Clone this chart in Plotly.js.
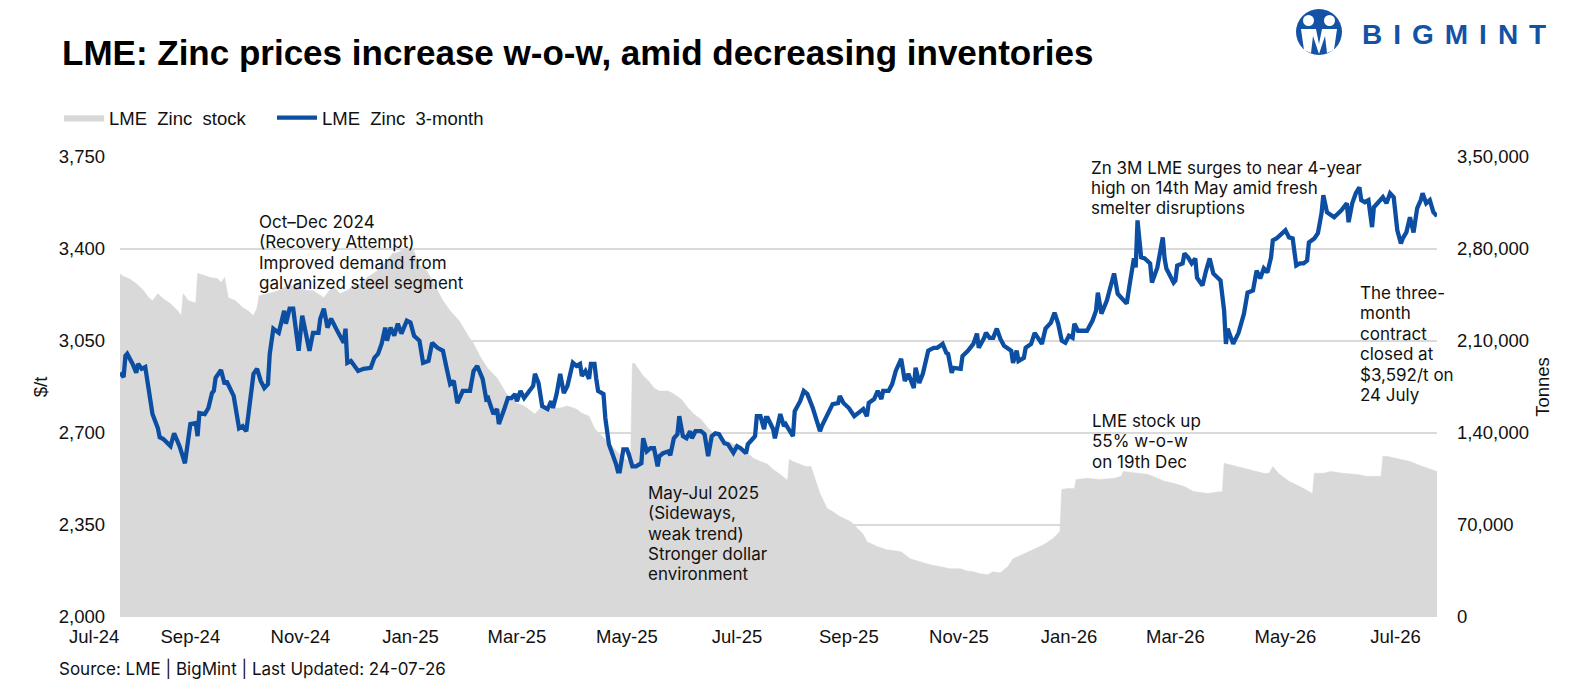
<!DOCTYPE html>
<html>
<head>
<meta charset="utf-8">
<script src="https://cdn.plot.ly/plotly-3.0.1.min.js"></script>
<style>
  html, body { margin: 0; padding: 0; background: #fff; }
  #chart { width: 1579px; height: 685px; }
</style>
</head>
<body>
<div id="chart"></div>
<script>
// LME zinc stock (tonnes)
const stockDates = [
  '2024-07-24','2024-07-26','2024-07-29','2024-08-02','2024-08-06','2024-08-09','2024-08-11','2024-08-14','2024-08-17','2024-08-21',
  '2024-08-25','2024-08-27','2024-08-28','2024-08-31','2024-09-04','2024-09-05','2024-09-09','2024-09-12','2024-09-16','2024-09-18',
  '2024-09-20','2024-09-22','2024-09-26','2024-09-30','2024-10-03','2024-10-06','2024-10-08','2024-10-09','2024-10-14','2024-10-20',
  '2024-10-23','2024-10-26','2024-10-28','2024-10-31','2024-11-01','2024-11-05','2024-11-08','2024-11-11','2024-11-14','2024-11-17',
  '2024-11-20','2024-11-23','2024-11-27','2024-11-30','2024-12-03','2024-12-08','2024-12-14','2024-12-19','2024-12-22','2024-12-25',
  '2024-12-28','2025-01-01','2025-01-03','2025-01-05','2025-01-10','2025-01-14','2025-01-19','2025-01-23','2025-01-28','2025-02-02',
  '2025-02-05','2025-02-09','2025-02-13','2025-02-18','2025-02-23','2025-02-26','2025-03-01','2025-03-05','2025-03-09','2025-03-11',
  '2025-03-14','2025-03-18','2025-03-21','2025-03-25','2025-03-29','2025-04-03','2025-04-06','2025-04-10','2025-04-13','2025-04-16',
  '2025-04-20','2025-04-24','2025-04-27','2025-05-02','2025-05-03','2025-05-04','2025-05-05','2025-05-07','2025-05-10','2025-05-13',
  '2025-05-16','2025-05-19','2025-05-24','2025-05-27','2025-05-31','2025-06-04','2025-06-07','2025-06-11','2025-06-15','2025-06-18',
  '2025-06-22','2025-06-26','2025-06-29','2025-07-03','2025-07-07','2025-07-10','2025-07-14','2025-07-18','2025-07-21','2025-07-25',
  '2025-07-29','2025-07-30','2025-08-01','2025-08-05','2025-08-08','2025-08-11','2025-08-14','2025-08-16','2025-08-20','2025-08-23',
  '2025-08-27','2025-09-02','2025-09-06','2025-09-09','2025-09-11','2025-09-17','2025-09-22','2025-09-30','2025-10-05','2025-10-11',
  '2025-10-16','2025-10-22','2025-10-27','2025-11-02','2025-11-05','2025-11-09','2025-11-13','2025-11-17','2025-11-20','2025-11-24',
  '2025-11-28','2025-12-01','2025-12-07','2025-12-12','2025-12-18','2025-12-23','2025-12-27','2025-12-28','2025-12-31','2026-01-04',
  '2026-01-05','2026-01-11','2026-01-18','2026-01-26','2026-01-30','2026-01-31','2026-02-06','2026-02-14','2026-02-23','2026-02-28',
  '2026-03-06','2026-03-11','2026-03-19','2026-03-26','2026-03-27','2026-03-28','2026-04-04','2026-04-11','2026-04-19','2026-04-22',
  '2026-04-24','2026-04-27','2026-05-03','2026-05-09','2026-05-12','2026-05-16','2026-05-17','2026-05-22','2026-05-26','2026-06-02',
  '2026-06-10','2026-06-15','2026-06-23','2026-06-24','2026-06-26','2026-07-02','2026-07-09','2026-07-16','2026-07-24'
];
const stockTonnes = [
  261000,259000,257500,253700,248400,243000,240700,246000,242200,238400,
  233000,229300,246000,240700,239000,261400,259900,258300,257500,254500,
  258300,243000,240700,235400,233000,229300,235400,244500,246000,248400,
  250700,253700,250700,254500,249900,248400,248400,246000,243000,248400,
  250700,246000,248400,252200,252200,258300,263700,271300,276600,277400,
  279800,280500,279000,269000,263700,253700,240700,233000,225400,214000,
  207900,197200,188800,181900,170400,166600,162800,160500,156700,154400,
  159000,156700,159000,159000,160500,158200,155100,152800,143700,139000,
  133700,128400,123800,118400,118000,192600,193300,189500,183400,179600,
  174200,171900,171900,169600,165800,158900,154400,150500,143700,139800,
  135900,133700,131400,128400,124600,120700,118400,116200,112300,108500,
  104000,120000,118400,116200,114600,114600,103200,94000,82500,80200,
  76400,72600,67200,62700,57300,53500,51200,49700,44300,42000,
  39700,38200,36700,36700,35200,34400,32900,32100,34400,33600,
  38200,44300,48100,51200,55000,59600,65000,97100,97800,97800,
  104700,105500,104700,105500,107000,110800,110000,108500,103200,101700,
  99300,95500,94000,95500,95000,116900,114600,112300,109300,109300,
  114600,109300,103200,99300,97100,94000,109300,109300,110800,109300,
  108500,107000,107000,122300,122300,120700,118400,114600,110800
];

// LME zinc 3-month price ($/t)
const priceDates = [
  '2024-07-24','2024-07-26','2024-07-27','2024-07-28','2024-07-31','2024-08-02','2024-08-03','2024-08-05','2024-08-07','2024-08-09',
  '2024-08-11','2024-08-14','2024-08-15','2024-08-17','2024-08-21','2024-08-23','2024-08-26','2024-08-29','2024-09-01','2024-09-04',
  '2024-09-05','2024-09-06','2024-09-09','2024-09-11','2024-09-13','2024-09-14','2024-09-15','2024-09-18','2024-09-20','2024-09-21',
  '2024-09-23','2024-09-25','2024-09-28','2024-09-30','2024-10-02','2024-10-05','2024-10-06','2024-10-08','2024-10-10','2024-10-12',
  '2024-10-14','2024-10-15','2024-10-17','2024-10-20','2024-10-23','2024-10-24','2024-10-26','2024-10-28','2024-10-31','2024-11-02',
  '2024-11-03','2024-11-06','2024-11-08','2024-11-11','2024-11-12','2024-11-14','2024-11-16','2024-11-18','2024-11-22','2024-11-25',
  '2024-11-26','2024-11-27','2024-11-29','2024-12-03','2024-12-06','2024-12-10','2024-12-12','2024-12-14','2024-12-16','2024-12-18',
  '2024-12-19','2024-12-21','2024-12-23','2024-12-25','2024-12-27','2024-12-30','2025-01-01','2025-01-03','2025-01-06','2025-01-08',
  '2025-01-11','2025-01-13','2025-01-16','2025-01-19','2025-01-21','2025-01-23','2025-01-25','2025-01-27','2025-01-30','2025-02-03',
  '2025-02-05','2025-02-07','2025-02-10','2025-02-12','2025-02-13','2025-02-16','2025-02-18','2025-02-19','2025-02-22','2025-02-24',
  '2025-02-26','2025-02-28','2025-03-01','2025-03-03','2025-03-05','2025-03-08','2025-03-10','2025-03-11','2025-03-13','2025-03-15',
  '2025-03-18','2025-03-20','2025-03-21','2025-03-23','2025-03-25','2025-03-27','2025-03-29','2025-04-01','2025-04-03','2025-04-05',
  '2025-04-06','2025-04-08','2025-04-10','2025-04-11','2025-04-13','2025-04-14','2025-04-15','2025-04-18','2025-04-19','2025-04-21',
  '2025-04-23','2025-04-25','2025-04-26','2025-04-27','2025-04-29','2025-05-01','2025-05-02','2025-05-04','2025-05-06','2025-05-09',
  '2025-05-10','2025-05-12','2025-05-14','2025-05-16','2025-05-18','2025-05-19','2025-05-21','2025-05-24','2025-05-25','2025-05-27',
  '2025-05-29','2025-05-30','2025-06-01','2025-06-03','2025-06-05','2025-06-06','2025-06-08','2025-06-11','2025-06-13','2025-06-15',
  '2025-06-17','2025-06-19','2025-06-21','2025-06-24','2025-06-26','2025-06-29','2025-07-01','2025-07-03','2025-07-06','2025-07-07',
  '2025-07-10','2025-07-11','2025-07-12','2025-07-14','2025-07-16','2025-07-17','2025-07-18','2025-07-21','2025-07-22','2025-07-25',
  '2025-07-27','2025-07-28','2025-07-31','2025-08-01','2025-08-02','2025-08-05','2025-08-07','2025-08-09','2025-08-12','2025-08-16',
  '2025-08-17','2025-08-20','2025-08-23','2025-08-26','2025-08-27','2025-08-29','2025-09-01','2025-09-04','2025-09-06','2025-09-09',
  '2025-09-11','2025-09-12','2025-09-15','2025-09-17','2025-09-19','2025-09-20','2025-09-23','2025-09-25','2025-09-27','2025-09-30',
  '2025-10-02','2025-10-04','2025-10-07','2025-10-08','2025-10-10','2025-10-12','2025-10-15','2025-10-18','2025-10-20','2025-10-23',
  '2025-10-25','2025-10-26','2025-10-28','2025-10-29','2025-11-02','2025-11-03','2025-11-06','2025-11-09','2025-11-11','2025-11-12',
  '2025-11-15','2025-11-16','2025-11-18','2025-11-20','2025-11-22','2025-11-24','2025-11-26','2025-11-28','2025-11-30','2025-12-01',
  '2025-12-03','2025-12-04','2025-12-07','2025-12-08','2025-12-11','2025-12-13','2025-12-15','2025-12-17','2025-12-19','2025-12-22',
  '2025-12-24','2025-12-26','2025-12-28','2025-12-30','2026-01-01','2026-01-03','2026-01-04','2026-01-06','2026-01-09','2026-01-11',
  '2026-01-14','2026-01-16','2026-01-17','2026-01-19','2026-01-22','2026-01-24','2026-01-26','2026-01-28','2026-01-30','2026-02-02',
  '2026-02-04','2026-02-06','2026-02-07','2026-02-08','2026-02-10','2026-02-12','2026-02-15','2026-02-16','2026-02-19','2026-02-22',
  '2026-02-23','2026-02-24','2026-02-28','2026-03-01','2026-03-02','2026-03-05','2026-03-06','2026-03-08','2026-03-10','2026-03-12',
  '2026-03-13','2026-03-16','2026-03-18','2026-03-20','2026-03-22','2026-03-24','2026-03-26','2026-03-28','2026-03-29','2026-03-30',
  '2026-04-02','2026-04-05','2026-04-08','2026-04-10','2026-04-13','2026-04-15','2026-04-17','2026-04-19','2026-04-21','2026-04-23',
  '2026-04-24','2026-04-26','2026-04-28','2026-05-01','2026-05-03','2026-05-05','2026-05-07','2026-05-09','2026-05-11','2026-05-13',
  '2026-05-14','2026-05-17','2026-05-19','2026-05-21','2026-05-22','2026-05-24','2026-05-28','2026-06-01','2026-06-04','2026-06-05',
  '2026-06-07','2026-06-09','2026-06-11','2026-06-12','2026-06-14','2026-06-16','2026-06-18','2026-06-19','2026-06-21','2026-06-23',
  '2026-06-24','2026-06-26','2026-06-28','2026-06-30','2026-07-02','2026-07-04','2026-07-05','2026-07-07','2026-07-09','2026-07-11',
  '2026-07-13','2026-07-15','2026-07-16','2026-07-18','2026-07-20','2026-07-22','2026-07-24'
];
const priceUsd = [
  2929,2913,2993,3001,2963,2929,2963,2944,2951,2860,
  2772,2718,2684,2677,2650,2699,2650,2585,2734,2738,
  2688,2776,2772,2795,2852,2860,2910,2940,2886,2898,
  2871,2841,2718,2726,2707,2886,2925,2944,2898,2871,
  2886,3001,3097,3081,3165,3116,3173,3173,3013,3146,
  3108,3013,3081,3081,3135,3173,3101,3135,3081,3043,
  3097,2967,2974,2936,2944,2948,2986,3001,3039,3101,
  3051,3101,3070,3116,3078,3127,3120,3070,3051,2967,
  2974,3043,3024,3013,2948,2886,2898,2814,2860,2860,
  2936,2955,2906,2829,2833,2772,2791,2734,2791,2833,
  2833,2848,2821,2860,2833,2860,2879,2925,2890,2802,
  2791,2821,2795,2848,2925,2852,2879,2967,2955,2963,
  2917,2936,2906,2963,2963,2906,2860,2848,2757,2657,
  2623,2581,2554,2554,2638,2638,2619,2573,2573,2585,
  2680,2630,2642,2642,2573,2612,2623,2630,2615,2680,
  2696,2764,2688,2680,2707,2680,2707,2707,2696,2612,
  2688,2699,2696,2661,2657,2625,2650,2642,2623,2657,
  2680,2688,2764,2764,2715,2757,2757,2715,2680,2772,
  2726,2734,2699,2688,2783,2821,2860,2848,2795,2707,
  2726,2764,2810,2814,2841,2814,2795,2764,2776,2791,
  2764,2814,2829,2860,2829,2860,2860,2886,2936,2982,
  2898,2925,2871,2948,2890,2925,3013,3024,3024,3039,
  3005,3001,2929,2948,2944,2993,3013,3039,3078,3024,
  3062,3081,3062,3062,3097,3058,3032,3024,3013,2967,
  3013,2974,2986,3024,3039,3081,3062,3039,3097,3120,
  3158,3116,3051,3043,3070,3062,3116,3089,3089,3089,
  3127,3165,3234,3154,3204,3253,3307,3230,3215,3192,
  3280,3364,3330,3509,3368,3364,3345,3272,3330,3444,
  3364,3326,3272,3280,3337,3345,3383,3368,3345,3364,
  3291,3261,3318,3364,3307,3291,3280,3165,3039,3097,
  3039,3081,3154,3234,3242,3318,3288,3326,3311,3368,
  3433,3440,3452,3471,3444,3440,3337,3345,3345,3356,
  3425,3440,3460,3536,3605,3540,3521,3547,3574,3502,
  3574,3612,3635,3586,3578,3586,3483,3559,3574,3586,
  3597,3574,3612,3597,3471,3421,3440,3463,3521,3463,
  3555,3586,3612,3574,3586,3540,3525
];

// axis ticks (the first month label sits just left of the axis start)
const xStartDate = '2024-07-24';
const xStartLabel = 'Jul-24';
const xTickDates = ['2024-09-01','2024-11-01','2025-01-01','2025-03-01','2025-05-01','2025-07-01',
                    '2025-09-01','2025-11-01','2026-01-01','2026-03-01','2026-05-01','2026-07-01'];
const xTickLabels = ['Sep-24','Nov-24','Jan-25','Mar-25','May-25','Jul-25',
                     'Sep-25','Nov-25','Jan-26','Mar-26','May-26','Jul-26'];
const priceTicks = [2000, 2350, 2700, 3050, 3400, 3750];
const priceTickLabels = ['2,000', '2,350', '2,700', '3,050', '3,400', '3,750'];
const stockTicks = [0, 70000, 140000, 210000, 280000, 350000];
const stockTickLabels = ['0', '70,000', '1,40,000', '2,10,000', '2,80,000', '3,50,000'];

// chart notes
const noteRecovery = ['Oct\u2013Dec 2024', '(Recovery Attempt)', 'Improved demand from', 'galvanized steel segment'];
const noteSideways = ['May-Jul 2025', '(Sideways,', 'weak trend)', 'Stronger dollar', 'environment'];
const noteHigh = ['Zn 3M LME surges to near 4-year', 'high on 14th May amid fresh', 'smelter disruptions'];
const noteStock = ['LME stock up', '55% w-o-w', 'on 19th Dec'];
const noteClose = ['The three-', 'month', 'contract', 'closed at', '$3,592/t on', '24 July'];

const BLUE = '#0b4ea2';
const GREY = '#d9d9d9';
const SANS = 'Liberation Sans, Arial, sans-serif';
const NOTE_FONT = 'Inter, Liberation Sans, sans-serif';

// plot area in page pixels: x 120..1437, y 157..617
const px = X => (X - 120) / 1317;
const py = Y => (617 - Y) / 460;

function noteLines(lines, left, firstY, gap) {
  return lines.map((t, i) => ({
    xref: 'paper', yref: 'paper',
    x: px(left), y: py(firstY + i * gap),
    xanchor: 'left', yanchor: 'middle',
    text: t, showarrow: false, borderpad: 0,
    font: { family: NOTE_FONT, size: 17, color: '#111' }
  }));
}

const stock = {
  type: 'scatter', mode: 'lines',
  name: 'LME\u00a0 Zinc\u00a0 stock',
  x: stockDates, y: stockTonnes,
  yaxis: 'y',
  fill: 'tozeroy', fillcolor: GREY,
  line: { color: GREY, width: 0.5 },
  hoverinfo: 'skip'
};

const price = {
  type: 'scatter', mode: 'lines',
  name: 'LME\u00a0 Zinc\u00a0 3-month',
  x: priceDates, y: priceUsd,
  yaxis: 'y2',
  line: { color: BLUE, width: 4.3 },
  hoverinfo: 'skip'
};

const annotations = [].concat(
  noteLines(noteRecovery, 258, 222, 20.3),
  noteLines(noteSideways, 647, 493, 20.3),
  noteLines(noteHigh, 1090, 168, 20.2),
  noteLines(noteStock, 1091, 421, 20.5),
  noteLines(noteClose, 1359, 293, 20.4),
  [{
    // first x label, right-aligned to the start of the axis
    xref: 'x', yref: 'paper', x: xStartDate, y: py(636),
    xanchor: 'right', yanchor: 'middle', showarrow: false, borderpad: 0,
    text: xStartLabel,
    font: { family: SANS, size: 18.5, color: '#111' }
  }, {
    xref: 'paper', yref: 'paper', x: px(57), y: py(668),
    xanchor: 'left', yanchor: 'middle', showarrow: false,
    text: 'Source: LME | BigMint | Last Updated: 24-07-26',
    font: { family: NOTE_FONT, size: 17, color: '#111' }
  }, {
    xref: 'paper', yref: 'paper', x: px(1360), y: py(35),
    xanchor: 'left', yanchor: 'middle', showarrow: false,
    text: '<span style="letter-spacing:11px">BIGMINT</span>',
    font: { family: SANS, size: 28, color: '#1452a6', weight: 'bold' }
  }]
);

// logo mark
const shapes = [
  { type: 'circle', xref: 'paper', yref: 'paper', x0: px(1296), x1: px(1342), y0: py(55), y1: py(9),
    fillcolor: '#1452a6', line: { width: 0 } },
  { type: 'circle', xref: 'paper', yref: 'paper', x0: px(1303), x1: px(1314), y0: py(26), y1: py(15),
    fillcolor: '#fff', line: { width: 0 } },
  { type: 'circle', xref: 'paper', yref: 'paper', x0: px(1324), x1: px(1335), y0: py(26), y1: py(15),
    fillcolor: '#fff', line: { width: 0 } },
  { type: 'path', xref: 'paper', yref: 'paper',
    path: 'M' + px(1301) + ',' + py(29) + ' L' + px(1316) + ',' + py(29) + ' L' + px(1319) + ',' + py(44) +
          ' L' + px(1322) + ',' + py(29) + ' L' + px(1337) + ',' + py(29) + ' L' + px(1334) + ',' + py(50) +
          ' L' + px(1327) + ',' + py(53) + ' L' + px(1325) + ',' + py(36) + ' L' + px(1319) + ',' + py(54) +
          ' L' + px(1313) + ',' + py(36) + ' L' + px(1311) + ',' + py(53) + ' L' + px(1304) + ',' + py(50) + ' Z',
    fillcolor: '#fff', line: { width: 0 } }
];

const layout = {
  width: 1579, height: 685,
  margin: { l: 120, r: 142, t: 157, b: 68 },
  paper_bgcolor: '#fff', plot_bgcolor: '#fff',
  font: { family: SANS, size: 18.5, color: '#111' },
  title: {
    text: 'LME: Zinc prices increase w-o-w, amid decreasing inventories',
    xref: 'container', x: 62 / 1579, xanchor: 'left',
    yref: 'container', y: 1 - 53 / 685, yanchor: 'middle',
    font: { family: SANS, size: 35, color: '#000', weight: 'bold' }
  },
  showlegend: true,
  legend: {
    orientation: 'h', x: px(59), y: py(118), xanchor: 'left', yanchor: 'middle',
    font: { family: SANS, size: 18.5, color: '#111' },
    itemwidth: 40,
    entrywidth: 158, entrywidthmode: 'pixels',
    bgcolor: 'rgba(0,0,0,0)', borderwidth: 0, traceorder: 'normal'
  },
  xaxis: {
    type: 'date',
    range: [xStartDate, '2026-07-24'],
    tickvals: xTickDates, ticktext: xTickLabels,
    showgrid: false, zeroline: false, showline: false, ticks: '',
    tickfont: { family: SANS, size: 18.5, color: '#111' },
    ticklabelstandoff: 6
  },
  yaxis: {
    side: 'right',
    range: [0, 350000],
    tickvals: stockTicks, ticktext: stockTickLabels,
    showgrid: true, gridcolor: '#dadada', gridwidth: 1.5,
    zeroline: false, showline: false, ticks: '',
    ticklabelstandoff: 19,
    title: { text: 'Tonnes', standoff: 8, font: { family: SANS, size: 18.5, color: '#111' } }
  },
  yaxis2: {
    overlaying: 'y', side: 'left',
    range: [2000, 3750],
    tickvals: priceTicks, ticktext: priceTickLabels,
    showgrid: false, zeroline: false, showline: false, ticks: '',
    ticklabelstandoff: 14,
    title: { text: '$/t', standoff: 6, font: { family: SANS, size: 18.5, color: '#111' } }
  },
  annotations: annotations,
  shapes: shapes
};

Plotly.newPlot('chart', [stock, price], layout, { displayModeBar: false, staticPlot: true });
</script>
</body>
</html>
